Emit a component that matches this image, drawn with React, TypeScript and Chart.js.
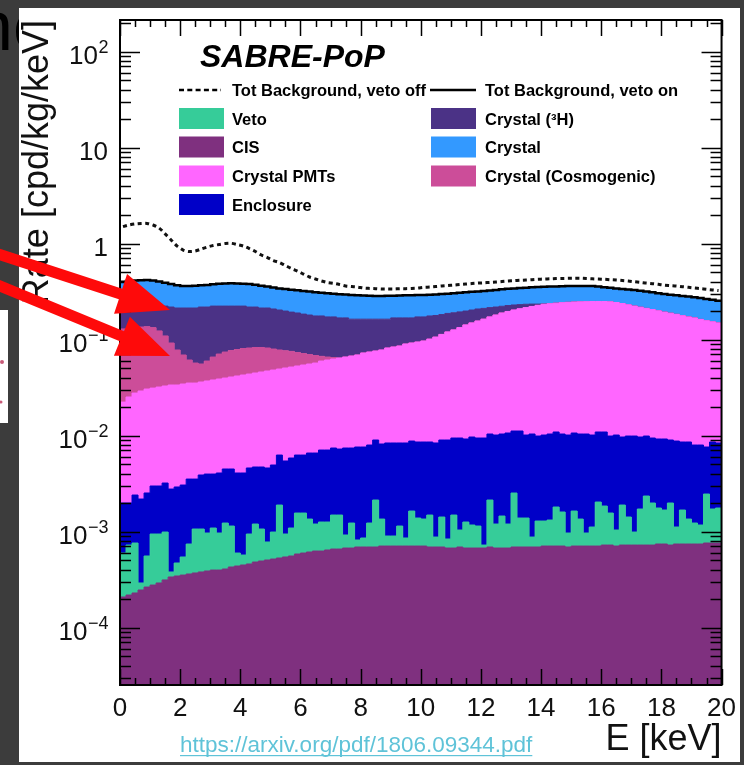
import React, { useEffect, useRef } from "react";
import { Chart, registerables } from "chart.js";

Chart.register(...registerables);

const W = 744;
const H = 765;
const FONT = '"Liberation Sans", Arial, Helvetica, sans-serif';

// ---------------- data ----------------
const BIN_WIDTH_KEV = 0.2;
const N_BINS = 100;
const X_TICKS = [0, 2, 4, 6, 8, 10, 12, 14, 16, 18, 20];
const X_TICK_LABELS = ["0", "2", "4", "6", "8", "10", "12", "14", "16", "18", "20"];
const Y_TICKS = [1e-4, 1e-3, 1e-2, 1e-1, 1, 10, 100];
// tick label = base with superscript exponent: 10⁻⁴ ... 10²
const Y_TICK_BASE = ["10", "10", "10", "10", "1", "10", "10"];
const Y_TICK_EXP = ["−4", "−3", "−2", "−1", "", "", "2"];

// Stacked histogram: top edge of each layer (cpd/kg/keV) per 0.2 keV bin, 0-20 keV
const cisTop = [
  2.08e-4, 2.18e-4, 2.29e-4, 2.46e-4, 2.64e-4, 2.77e-4, 2.91e-4, 3.13e-4, 3.36e-4, 3.44e-4,
  3.52e-4, 3.61e-4, 3.70e-4, 3.79e-4, 3.88e-4, 3.97e-4, 3.97e-4, 4.07e-4, 4.27e-4, 4.37e-4,
  4.48e-4, 4.59e-4, 4.81e-4, 4.93e-4, 5.05e-4, 5.17e-4, 5.30e-4, 5.43e-4, 5.56e-4, 5.83e-4,
  5.97e-4, 6.12e-4, 6.26e-4, 6.26e-4, 6.42e-4, 6.57e-4, 6.57e-4, 6.73e-4, 6.73e-4, 6.90e-4,
  6.90e-4, 6.90e-4, 6.90e-4, 7.06e-4, 7.06e-4, 7.06e-4, 7.06e-4, 7.06e-4, 7.06e-4, 7.06e-4,
  7.06e-4, 6.90e-4, 6.90e-4, 6.90e-4, 6.73e-4, 6.73e-4, 6.90e-4, 6.73e-4, 6.73e-4, 6.73e-4,
  6.73e-4, 6.90e-4, 6.73e-4, 6.73e-4, 6.73e-4, 6.90e-4, 6.90e-4, 6.90e-4, 6.90e-4, 6.90e-4,
  7.06e-4, 7.06e-4, 7.06e-4, 7.06e-4, 6.90e-4, 7.06e-4, 7.06e-4, 7.06e-4, 7.06e-4, 7.06e-4,
  7.23e-4, 7.23e-4, 7.06e-4, 7.23e-4, 7.23e-4, 7.23e-4, 7.23e-4, 7.23e-4, 7.23e-4, 7.41e-4,
  7.41e-4, 7.23e-4, 7.41e-4, 7.41e-4, 7.41e-4, 7.41e-4, 7.41e-4, 7.59e-4, 7.59e-4, 7.59e-4,
];

const vetoTop = [
  5.97e-4, 7.23e-4, 7.59e-4, 2.91e-4, 5.56e-4, 9.42e-4, 9.42e-4, 9.88e-4, 3.79e-4, 4.70e-4,
  5.43e-4, 7.41e-4, 1.062e-3, 1.062e-3, 9.65e-4, 1.088e-3, 9.65e-4, 1.226e-3, 1.141e-3, 5.97e-4,
  5.69e-4, 9.42e-4, 1.197e-3, 1.062e-3, 7.78e-4, 9.88e-4, 1.888e-3, 9.42e-4, 1.088e-3, 1.558e-3,
  1.558e-3, 1.349e-3, 1.197e-3, 1.256e-3, 1.256e-3, 1.485e-3, 1.485e-3, 9.20e-4, 1.226e-3, 8.16e-4,
  8.56e-4, 1.226e-3, 2.129e-3, 1.349e-3, 8.98e-4, 8.98e-4, 1.141e-3, 8.56e-4, 1.635e-3, 1.382e-3,
  1.349e-3, 1.485e-3, 8.76e-4, 1.416e-3, 8.36e-4, 1.485e-3, 1.037e-3, 1.256e-3, 1.169e-3, 1.141e-3,
  7.23e-4, 2.129e-3, 1.197e-3, 1.450e-3, 1.197e-3, 2.518e-3, 1.382e-3, 1.382e-3, 8.76e-4, 1.286e-3,
  1.286e-3, 1.318e-3, 1.800e-3, 1.597e-3, 9.65e-4, 1.635e-3, 1.349e-3, 9.65e-4, 1.114e-3, 2.029e-3,
  1.843e-3, 1.558e-3, 1.037e-3, 1.888e-3, 1.416e-3, 9.88e-4, 1.716e-3, 2.343e-3, 1.981e-3, 1.757e-3,
  1.675e-3, 1.981e-3, 1.114e-3, 1.675e-3, 1.349e-3, 1.226e-3, 1.169e-3, 2.458e-3, 1.716e-3, 1.757e-3,
];

const enclosureTop = [
  1.98e-3, 1.98e-3, 2.40e-3, 2.18e-3, 2.52e-3, 2.98e-3, 2.98e-3, 3.20e-3, 2.77e-3, 2.91e-3,
  3.05e-3, 3.52e-3, 3.52e-3, 3.88e-3, 3.97e-3, 3.97e-3, 4.07e-3, 4.48e-3, 4.48e-3, 4.07e-3,
  4.07e-3, 4.59e-3, 4.70e-3, 4.70e-3, 4.59e-3, 4.93e-3, 6.26e-3, 5.43e-3, 5.83e-3, 6.26e-3,
  6.26e-3, 6.57e-3, 6.57e-3, 7.06e-3, 7.06e-3, 7.41e-3, 7.23e-3, 7.41e-3, 7.41e-3, 7.59e-3,
  7.59e-3, 7.96e-3, 8.98e-3, 8.16e-3, 8.36e-3, 8.36e-3, 8.36e-3, 8.36e-3, 8.76e-3, 8.56e-3,
  8.56e-3, 8.56e-3, 8.36e-3, 8.98e-3, 8.98e-3, 9.42e-3, 9.42e-3, 9.20e-3, 9.65e-3, 9.42e-3,
  9.42e-3, 1.037e-2, 1.012e-2, 1.037e-2, 1.062e-2, 1.114e-2, 1.114e-2, 1.012e-2, 1.037e-2, 9.88e-3,
  1.012e-2, 1.037e-2, 1.088e-2, 1.037e-2, 1.012e-2, 1.062e-2, 1.037e-2, 1.037e-2, 1.012e-2, 1.088e-2,
  1.088e-2, 9.88e-3, 1.012e-2, 9.65e-3, 9.88e-3, 9.88e-3, 9.65e-3, 9.88e-3, 9.42e-3, 9.20e-3,
  9.20e-3, 8.98e-3, 8.76e-3, 8.56e-3, 8.56e-3, 7.96e-3, 7.96e-3, 7.59e-3, 8.56e-3, 8.36e-3,
];

const pmtTop = [
  0.0223, 0.0252, 0.0277, 0.0291, 0.0305, 0.0312, 0.032, 0.0328, 0.0336, 0.0336,
  0.0344, 0.0352, 0.0352, 0.0361, 0.037, 0.0379, 0.0388, 0.0397, 0.0407, 0.0417,
  0.0427, 0.0437, 0.0448, 0.0459, 0.047, 0.0481, 0.0493, 0.0505, 0.0517, 0.053,
  0.0543, 0.0556, 0.0569, 0.0597, 0.0612, 0.0627, 0.0642, 0.0657, 0.0673, 0.069,
  0.0724, 0.0741, 0.0759, 0.0778, 0.0816, 0.0836, 0.0856, 0.0898, 0.092, 0.0942,
  0.0965, 0.101, 0.106, 0.113, 0.12, 0.126, 0.133, 0.142, 0.149, 0.156,
  0.163, 0.172, 0.18, 0.189, 0.196, 0.203, 0.209, 0.215, 0.221, 0.227,
  0.233, 0.236, 0.239, 0.242, 0.244, 0.246, 0.247, 0.248, 0.249, 0.249,
  0.249, 0.247, 0.243, 0.237, 0.23, 0.223, 0.217, 0.211, 0.205, 0.199,
  0.193, 0.188, 0.183, 0.177, 0.172, 0.168, 0.162, 0.157, 0.153, 0.149,
];

const cosmogenicTop = [
  0.129, 0.132, 0.133, 0.135, 0.136, 0.133, 0.123, 0.109, 0.092, 0.0778,
  0.069, 0.0612, 0.0569, 0.0556, 0.0597, 0.0657, 0.0706, 0.0741, 0.0768, 0.0787,
  0.0806, 0.0816, 0.0826, 0.0826, 0.0816, 0.0796, 0.0778, 0.0764, 0.0752, 0.0732,
  0.0715, 0.0698, 0.0681, 0.0668, 0.0657, 0.0649, 0.0642, 0.0657, 0.0673, 0.069,
  0.0724, 0.0741, 0.0759, 0.0778, 0.0816, 0.0836, 0.0856, 0.0898, 0.092, 0.0942,
  0.0965, 0.101, 0.106, 0.113, 0.12, 0.126, 0.133, 0.142, 0.149, 0.156,
  0.163, 0.172, 0.18, 0.189, 0.196, 0.203, 0.209, 0.215, 0.221, 0.227,
  0.233, 0.236, 0.239, 0.242, 0.244, 0.246, 0.247, 0.248, 0.249, 0.249,
  0.249, 0.247, 0.243, 0.237, 0.23, 0.223, 0.217, 0.211, 0.205, 0.199,
  0.193, 0.188, 0.183, 0.177, 0.172, 0.168, 0.162, 0.157, 0.153, 0.149,
];

const tritiumTop = [
  0.284, 0.277, 0.271, 0.264, 0.258, 0.246, 0.234, 0.223, 0.218, 0.213,
  0.213, 0.213, 0.213, 0.218, 0.218, 0.223, 0.223, 0.223, 0.223, 0.223,
  0.223, 0.218, 0.218, 0.213, 0.213, 0.208, 0.203, 0.198, 0.193, 0.189,
  0.184, 0.18, 0.176, 0.176, 0.172, 0.172, 0.168, 0.168, 0.163, 0.163,
  0.163, 0.163, 0.163, 0.163, 0.163, 0.168, 0.168, 0.168, 0.168, 0.172,
  0.172, 0.176, 0.178, 0.182, 0.187, 0.19, 0.194, 0.198, 0.203, 0.208,
  0.211, 0.215, 0.218, 0.222, 0.226, 0.229, 0.231, 0.233, 0.234, 0.234,
  0.235, 0.236, 0.239, 0.242, 0.244, 0.246, 0.247, 0.248, 0.249, 0.249,
  0.249, 0.247, 0.243, 0.237, 0.23, 0.223, 0.217, 0.211, 0.205, 0.199,
  0.193, 0.188, 0.183, 0.177, 0.172, 0.168, 0.162, 0.157, 0.153, 0.149,
];

// total with veto on (= top of the "Crystal" layer)
const totalVetoOn = [
  0.4, 0.407, 0.412, 0.415, 0.417, 0.412, 0.402, 0.391, 0.379, 0.368,
  0.361, 0.361, 0.364, 0.368, 0.37, 0.376, 0.38, 0.384, 0.385, 0.383,
  0.38, 0.379, 0.371, 0.364, 0.356, 0.349, 0.341, 0.336, 0.33, 0.326,
  0.32, 0.316, 0.311, 0.307, 0.303, 0.3, 0.297, 0.294, 0.291, 0.289,
  0.287, 0.285, 0.284, 0.284, 0.285, 0.286, 0.287, 0.289, 0.29, 0.291,
  0.291, 0.293, 0.295, 0.298, 0.3, 0.303, 0.307, 0.31, 0.314, 0.317,
  0.32, 0.324, 0.329, 0.333, 0.338, 0.341, 0.344, 0.346, 0.35, 0.352,
  0.355, 0.356, 0.357, 0.359, 0.36, 0.361, 0.361, 0.361, 0.361, 0.356,
  0.35, 0.346, 0.341, 0.337, 0.332, 0.328, 0.322, 0.316, 0.31, 0.304,
  0.298, 0.293, 0.289, 0.284, 0.28, 0.275, 0.27, 0.265, 0.259, 0.254,
];

const totalVetoOff = [
  1.5, 1.56, 1.6, 1.62, 1.62, 1.56, 1.45, 1.26, 1.09, 0.94,
  0.856, 0.825, 0.835, 0.877, 0.919, 0.953, 0.976, 1.0, 1.005, 0.976,
  0.942, 0.887, 0.825, 0.759, 0.715, 0.665, 0.634, 0.59, 0.549, 0.517,
  0.481, 0.448, 0.427, 0.407, 0.392, 0.385, 0.374, 0.361, 0.356, 0.352,
  0.344, 0.341, 0.339, 0.336, 0.336, 0.336, 0.339, 0.339, 0.341, 0.344,
  0.35, 0.352, 0.356, 0.361, 0.365, 0.369, 0.374, 0.378, 0.383, 0.387,
  0.39, 0.394, 0.397, 0.402, 0.407, 0.41, 0.414, 0.417, 0.42, 0.424,
  0.427, 0.429, 0.431, 0.433, 0.434, 0.435, 0.435, 0.432, 0.429, 0.427,
  0.424, 0.42, 0.417, 0.412, 0.407, 0.4, 0.394, 0.387, 0.382, 0.376,
  0.369, 0.365, 0.361, 0.355, 0.35, 0.344, 0.339, 0.333, 0.328, 0.324,
];

const LEGEND_LEFT = ["Veto", "CIS", "Crystal PMTs", "Enclosure"];
const LEGEND_RIGHT = ["Crystal (³H)", "Crystal", "Crystal (Cosmogenic)"];
const LABEL_OFF = "Tot Background, veto off";
const LABEL_ON = "Tot Background, veto on";

const COLORS: Record<string, string> = {
  Veto: "#36cc99",
  CIS: "#7f307f",
  "Crystal PMTs": "#ff66ff",
  Enclosure: "#0000c8",
  "Crystal (³H)": "#4b3286",
  Crystal: "#3399ff",
  "Crystal (Cosmogenic)": "#cc4d99",
};

// ---------------- helpers ----------------
const binEdges = Array.from({ length: N_BINS + 1 }, (_, i) => +(i * BIN_WIDTH_KEV).toFixed(2));
const binCenters = Array.from({ length: N_BINS }, (_, i) => +((i + 0.5) * BIN_WIDTH_KEV).toFixed(2));
const histPoints = (vals: number[]) =>
  binEdges.map((x, i) => ({ x, y: vals[Math.min(i, vals.length - 1)] }));

function layer(label: string, vals: number[], fill: any) {
  const c = COLORS[label];
  return {
    label,
    data: histPoints(vals),
    stepped: "before",
    fill,
    backgroundColor: c,
    borderColor: c,
    borderWidth: 1,
    pointRadius: 0,
    tension: 0,
  };
}

function seg(ctx: CanvasRenderingContext2D, x0: number, y0: number, x1: number, y1: number) {
  ctx.beginPath();
  ctx.moveTo(x0, y0);
  ctx.lineTo(x1, y1);
  ctx.stroke();
}

function arrow(ctx: CanvasRenderingContext2D, x0: number, y0: number, x1: number, y1: number) {
  const shaftW = 11, headL = 52, headW = 42;
  const dx = x1 - x0, dy = y1 - y0;
  const len = Math.hypot(dx, dy);
  const ux = dx / len, uy = dy / len;
  const px = -uy, py = ux;
  const bx = x1 - ux * headL, by = y1 - uy * headL;
  ctx.beginPath();
  ctx.moveTo(x0 + px * shaftW / 2, y0 + py * shaftW / 2);
  ctx.lineTo(bx + px * shaftW / 2, by + py * shaftW / 2);
  ctx.lineTo(bx + px * headW / 2, by + py * headW / 2);
  ctx.lineTo(x1, y1);
  ctx.lineTo(bx - px * headW / 2, by - py * headW / 2);
  ctx.lineTo(bx - px * shaftW / 2, by - py * shaftW / 2);
  ctx.lineTo(x0 - px * shaftW / 2, y0 - py * shaftW / 2);
  ctx.closePath();
  ctx.fill();
}

const pagePlugin = {
  id: "pageDecor",
  beforeDraw(chart: any) {
    const ctx = chart.ctx as CanvasRenderingContext2D;
    ctx.save();
    ctx.fillStyle = "#3c3c3c";
    ctx.fillRect(0, 0, chart.width, chart.height);
    ctx.fillStyle = "#000";
    ctx.font = `70px ${FONT}`;
    ctx.textBaseline = "alphabetic";
    ctx.textAlign = "left";
    ctx.fillText("ne", -26, 50);
    ctx.fillStyle = "#ffffff";
    ctx.fillRect(19, 8, 721, 754);
    ctx.fillRect(0, 310, 8, 113);
    ctx.fillStyle = "#c85a78";
    ctx.beginPath();
    ctx.arc(2, 362, 2, 0, Math.PI * 2);
    ctx.arc(1, 402, 1.5, 0, Math.PI * 2);
    ctx.fill();
    ctx.restore();
  },
  afterDatasetsDraw(chart: any) {
    const ctx = chart.ctx as CanvasRenderingContext2D;
    const { left, right, top, bottom } = chart.chartArea;
    const xs = chart.scales.x, ys = chart.scales.y;
    ctx.save();
    ctx.strokeStyle = "#000";
    ctx.lineWidth = 1.5;
    for (let k = 0; k <= 40; k++) {
      const v = k * 0.5;
      const px = Math.round(xs.getPixelForValue(v)) + 0.5;
      const len = k % 4 === 0 ? 16 : 7;
      seg(ctx, px, bottom, px, bottom - len);
      seg(ctx, px, top, px, top + len);
    }
    for (let e = -5; e <= 2; e++) {
      for (let m = 1; m <= 9; m++) {
        const v = m * Math.pow(10, e);
        if (v < ys.min || v > ys.max) continue;
        const py = Math.round(ys.getPixelForValue(v)) + 0.5;
        const len = m === 1 ? 20 : 11;
        seg(ctx, left, py, left + len, py);
        seg(ctx, right, py, right - len, py);
      }
    }
    ctx.lineWidth = 2;
    ctx.strokeRect(left, top, right - left, bottom - top);

    // y tick labels with real superscripts
    ctx.fillStyle = "#111";
    ctx.textBaseline = "alphabetic";
    ctx.textAlign = "left";
    Y_TICKS.forEach((v, i) => {
      const py = ys.getPixelForValue(v);
      const base = Y_TICK_BASE[i];
      const ex = Y_TICK_EXP[i];
      ctx.font = `18px ${FONT}`;
      const ew = ex ? ctx.measureText(ex).width : 0;
      ctx.font = `26px ${FONT}`;
      const bw = ctx.measureText(base).width;
      const xEnd = left - 12;
      ctx.fillText(base, xEnd - ew - bw, py + 12);
      if (ex) {
        ctx.font = `18px ${FONT}`;
        ctx.fillText(ex, xEnd - ew + 0.5, py + 1);
      }
    });
    ctx.restore();
  },
  afterDraw(chart: any) {
    const ctx = chart.ctx as CanvasRenderingContext2D;
    ctx.save();
    // title
    ctx.fillStyle = "#000";
    ctx.font = `italic bold 32px ${FONT}`;
    ctx.textBaseline = "alphabetic";
    ctx.textAlign = "left";
    ctx.fillText("SABRE-PoP", 200, 67);

    // legend
    const rows = [90, 118.5, 147, 176, 204.5];
    const lx = 179, rx = 431, bw = 45, bh = 21;
    ctx.font = `bold 16.5px ${FONT}`;
    ctx.strokeStyle = "#000";
    ctx.lineWidth = 2.5;
    ctx.setLineDash([5, 3.3]);
    seg(ctx, lx, rows[0], lx + 42, rows[0]);
    ctx.setLineDash([]);
    seg(ctx, rx - 1, rows[0], rx + 45, rows[0]);
    ctx.fillStyle = "#000";
    ctx.fillText(LABEL_OFF, 232, rows[0] + 6);
    ctx.fillText(LABEL_ON, 485, rows[0] + 6);
    LEGEND_LEFT.forEach((lab, i) => {
      const y = rows[i + 1];
      ctx.fillStyle = COLORS[lab];
      ctx.fillRect(lx, y - bh / 2, bw, bh);
      ctx.fillStyle = "#000";
      ctx.fillText(lab, 232, y + 6);
    });
    LEGEND_RIGHT.forEach((lab, i) => {
      const y = rows[i + 1];
      ctx.fillStyle = COLORS[lab];
      ctx.fillRect(rx, y - bh / 2, bw, bh);
      ctx.fillStyle = "#000";
      ctx.fillText(lab, 485, y + 6);
    });

    // link
    ctx.font = `22.5px ${FONT}`;
    ctx.fillStyle = "#5fc3d8";
    const link = "https://arxiv.org/pdf/1806.09344.pdf";
    ctx.fillText(link, 180, 752);
    const lw = ctx.measureText(link).width;
    ctx.fillRect(180, 755, lw, 1.2);

    // red arrows
    ctx.fillStyle = "#fe0a0a";
    arrow(ctx, -5, 253, 170, 310);
    arrow(ctx, -5, 284, 170, 356);
    ctx.restore();
  },
};

export default function App() {
  const ref = useRef<HTMLCanvasElement>(null);
  useEffect(() => {
    const canvas = ref.current;
    if (!canvas) return;
    const datasets: any[] = [
      {
        label: LABEL_ON,
        data: histPoints(totalVetoOn),
        stepped: "before",
        fill: false,
        borderColor: "#000",
        borderWidth: 2.5,
        pointRadius: 0,
      },
      {
        label: LABEL_OFF,
        data: binCenters.map((x, i) => ({ x, y: totalVetoOff[i] })),
        fill: false,
        borderColor: "#111",
        borderWidth: 3,
        borderDash: [4, 3.5],
        pointRadius: 0,
        tension: 0.3,
      },
      layer("CIS", cisTop, "start"),
      layer("Veto", vetoTop, "-1"),
      layer("Enclosure", enclosureTop, "-1"),
      layer("Crystal PMTs", pmtTop, "-1"),
      layer("Crystal (Cosmogenic)", cosmogenicTop, "-1"),
      layer("Crystal (³H)", tritiumTop, "-1"),
      layer("Crystal", totalVetoOn, "-1"),
    ];
    const chart = new Chart(canvas, {
      type: "line",
      data: { datasets },
      plugins: [pagePlugin],
      options: {
        responsive: false,
        animation: false,
        devicePixelRatio: 1,
        layout: { padding: { left: 0, right: 22, top: 20, bottom: 0 } },
        plugins: {
          legend: { display: false },
          tooltip: { enabled: false },
        },
        scales: {
          x: {
            type: "linear",
            min: 0,
            max: 20,
            afterBuildTicks: (s: any) => {
              s.ticks = X_TICKS.map((v) => ({ value: v }));
            },
            afterFit: (s: any) => {
              s.height = 80;
            },
            grid: { display: false, drawTicks: false },
            border: { display: false },
            ticks: {
              autoSkip: false,
              maxRotation: 0,
              padding: 8,
              color: "#111",
              font: { family: FONT, size: 26 },
              callback: (_v: any, i: number) => X_TICK_LABELS[i],
            },
            title: {
              display: true,
              text: "E [keV]",
              align: "end",
              color: "#111",
              font: { family: FONT, size: 36 },
              padding: { top: 0, bottom: 3 },
            },
          },
          y: {
            type: "logarithmic",
            min: 2.52e-5,
            max: 213,
            afterBuildTicks: (s: any) => {
              s.ticks = Y_TICKS.map((v) => ({ value: v }));
            },
            afterFit: (s: any) => {
              s.width = 120;
            },
            grid: { display: false, drawTicks: false },
            border: { display: false },
            ticks: { display: false },
            title: {
              display: true,
              text: "Rate [cpd/kg/keV]",
              align: "end",
              color: "#111",
              font: { family: FONT, size: 36 },
              padding: { top: 16, bottom: 0 },
            },
          },
        },
      } as any,
    });
    return () => chart.destroy();
  }, []);
  return (
    <div style={{ position: "absolute", left: 0, top: 0, width: W, height: H }}>
      <canvas ref={ref} width={W} height={H} style={{ display: "block", width: W, height: H }} />
    </div>
  );
}
